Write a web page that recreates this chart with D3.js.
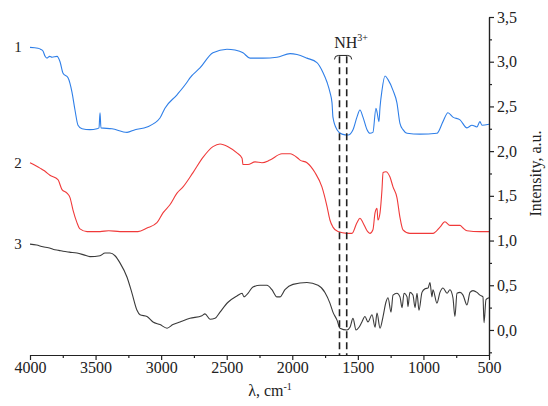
<!DOCTYPE html>
<html>
<head>
<meta charset="utf-8">
<script src="https://cdn.jsdelivr.net/npm/d3@7"></script>
<style>
  html, body { margin: 0; padding: 0; background: #fff; }
  svg { display: block; }
  text { font-family: "Times New Roman", "Liberation Serif", Tinos, serif; fill: #222; }
</style>
</head>
<body>
<svg id="chart" width="548" height="406"></svg>
<script>
// ---- data (wavenumber, cm^-1 ; intensity, a.u.) ----
const wn1 = [4000,3939,3920,3901,3885,3870,3850,3832,3794,3771,3748,3710,3680,3657,3634,3603,3543,3489,3474,3466,3459,3375,3260,3199,3108,3009,2971,2879,2803,2780,2704,2605,2498,2437,2376,2322,2223,2117,2017,1964,1888,1812,1766,1735,1713,1697,1690,1659,1621,1575,1537,1507,1484,1461,1430,1408,1385,1362,1354,1339,1331,1316,1293,1270,1232,1202,1179,1156,1125,1026,897,851,813,775,721,668,630,592,569,554,500];
const int1 = [3.16,3.15,3.14,3.12,3.06,3.04,3.06,3.05,3.06,3.00,2.87,2.82,2.66,2.46,2.29,2.25,2.24,2.25,2.26,2.43,2.26,2.25,2.21,2.24,2.27,2.37,2.48,2.63,2.77,2.82,2.93,3.10,3.14,3.13,3.10,3.04,3.04,3.05,3.09,3.08,3.04,2.99,2.88,2.77,2.66,2.54,2.38,2.24,2.19,2.18,2.24,2.38,2.46,2.38,2.24,2.20,2.21,2.48,2.44,2.33,2.49,2.68,2.84,2.80,2.68,2.54,2.31,2.24,2.20,2.19,2.20,2.33,2.43,2.38,2.35,2.26,2.29,2.27,2.33,2.29,2.30];

const wn2 = [4000,3924,3890,3848,3787,3756,3718,3695,3672,3642,3619,3565,3466,3400,3314,3177,3108,3032,2986,2933,2879,2833,2757,2681,2605,2551,2490,2422,2383,2376,2338,2284,2231,2170,2079,2017,1957,1941,1888,1827,1774,1735,1713,1690,1652,1583,1545,1507,1484,1461,1430,1408,1385,1369,1354,1347,1331,1316,1308,1286,1255,1232,1202,1179,1156,1103,927,874,836,798,721,698,668,569,500];
const int2 = [1.87,1.81,1.78,1.73,1.68,1.57,1.53,1.48,1.34,1.20,1.13,1.10,1.10,1.11,1.10,1.10,1.14,1.20,1.31,1.40,1.53,1.60,1.76,1.93,2.05,2.08,2.05,1.98,1.92,1.85,1.85,1.88,1.87,1.90,1.97,1.97,1.92,1.90,1.87,1.76,1.60,1.38,1.23,1.15,1.10,1.08,1.08,1.20,1.25,1.20,1.11,1.08,1.12,1.31,1.36,1.23,1.31,1.57,1.76,1.77,1.71,1.60,1.48,1.26,1.12,1.08,1.08,1.15,1.21,1.17,1.17,1.14,1.11,1.10,1.10];

const wn3 = [4000,3950,3901,3860,3820,3780,3748,3700,3642,3590,3543,3466,3428,3390,3352,3314,3260,3222,3184,3161,3108,3062,3009,2955,2910,2856,2780,2689,2666,2627,2589,2551,2490,2422,2383,2368,2338,2300,2246,2193,2155,2117,2094,2056,1995,1888,1804,1751,1713,1690,1659,1636,1583,1560,1537,1514,1491,1469,1446,1423,1392,1369,1354,1331,1308,1286,1270,1247,1232,1202,1179,1163,1148,1125,1118,1103,1080,1064,1049,1034,1011,988,965,950,935,927,897,874,851,820,798,775,760,744,721,698,668,645,622,592,569,546,538,523,500];
const int3 = [0.96,0.95,0.93,0.92,0.90,0.89,0.88,0.87,0.86,0.84,0.82,0.83,0.86,0.86,0.83,0.75,0.59,0.41,0.22,0.17,0.15,0.09,0.06,0.02,0.06,0.09,0.13,0.16,0.18,0.12,0.13,0.20,0.31,0.38,0.41,0.37,0.41,0.48,0.50,0.50,0.45,0.37,0.37,0.45,0.51,0.53,0.50,0.42,0.30,0.20,0.11,0.02,0.00,0.03,0.13,0.00,0.03,0.09,0.15,0.09,0.17,0.03,0.19,0.02,0.15,0.31,0.36,0.20,0.39,0.41,0.37,0.25,0.41,0.37,0.26,0.42,0.39,0.25,0.41,0.22,0.42,0.46,0.47,0.53,0.37,0.45,0.30,0.42,0.47,0.41,0.45,0.36,0.15,0.41,0.42,0.39,0.28,0.42,0.44,0.42,0.39,0.37,0.08,0.34,0.36];

const seriesLabels = ["1", "2", "3"];
const xTicks = [4000, 3500, 3000, 2500, 2000, 1500, 1000, 500];
const xMinorTicks = [3750, 3250, 2750, 2250, 1750, 1250, 750];
const yTicks = [0, 0.5, 1.0, 1.5, 2.0, 2.5, 3.0, 3.5];
const yMinorTicks = [-0.25, 0.25, 0.75, 1.25, 1.75, 2.25, 2.75, 3.25];
const nhBands = [1640, 1585];

// ---- layout ----
const svg = d3.select("#chart");
const x = d3.scaleLinear().domain([4000, 500]).range([30, 489]);
const y = d3.scaleLinear().domain([-0.28, 3.5]).range([355, 17]);

const colors = ["#2f7fe8", "#f03a3a", "#3a3a3a"];
const series = [
  {wn: wn1, v: int1, label: seriesLabels[0]},
  {wn: wn2, v: int2, label: seriesLabels[1]},
  {wn: wn3, v: int3, label: seriesLabels[2]}
];

const line = d3.line().x(d => x(d[0])).y(d => y(d[1])).curve(d3.curveMonotoneX);

series.forEach((s, i) => {
  const pts = s.wn.map((w, j) => [w, s.v[j]]);
  svg.append("path")
    .datum(pts)
    .attr("d", line)
    .attr("fill", "none")
    .attr("stroke", colors[i])
    .attr("stroke-width", 1.1)
    .attr("stroke-linejoin", "round");
  svg.append("text")
    .attr("x", 18)
    .attr("y", y(s.v[0]) + 5)
    .attr("text-anchor", "middle")
    .attr("font-size", 15)
    .text(s.label);
});

// dashed NH3+ marker lines
nhBands.forEach(w => {
  svg.append("line")
    .attr("x1", x(w)).attr("x2", x(w))
    .attr("y1", y(3.06)).attr("y2", y(-0.28))
    .attr("stroke", "#222")
    .attr("stroke-width", 1.6)
    .attr("stroke-dasharray", "7,4");
});
// bracket above the lines
const bx0 = x(nhBands[0]) - 5, bx1 = x(nhBands[1]) + 5, by = y(3.07);
svg.append("path")
  .attr("d", `M${bx0},${by + 4} Q${bx0},${by} ${bx0 + 4},${by} L${bx1 - 4},${by} Q${bx1},${by} ${bx1},${by + 4}`)
  .attr("fill", "none").attr("stroke", "#222").attr("stroke-width", 1);
const nh = svg.append("text")
  .attr("x", x((nhBands[0] + nhBands[1]) / 2) + 8)
  .attr("y", by - 7)
  .attr("text-anchor", "middle")
  .attr("font-size", 16);
nh.append("tspan").text("NH");
nh.append("tspan").attr("font-size", 10).attr("dy", -7).text("3+");

// ---- axes ----
const fmt = d => d3.format(".1f")(d).replace(".", ",");

svg.append("g")
  .attr("transform", `translate(0,${y(-0.28)})`)
  .call(d3.axisBottom(x).tickValues(xTicks).tickSize(5).tickSizeOuter(0).tickPadding(2).tickFormat(d3.format("d")));
svg.append("g")
  .attr("transform", `translate(0,${y(-0.28)})`)
  .call(d3.axisBottom(x).tickValues(xMinorTicks).tickSize(3).tickSizeOuter(0).tickFormat(""));

svg.append("g")
  .attr("transform", `translate(${x(500)},0)`)
  .call(d3.axisRight(y).tickValues(yTicks).tickSize(5).tickSizeOuter(0).tickPadding(3).tickFormat(fmt));
svg.append("g")
  .attr("transform", `translate(${x(500)},0)`)
  .call(d3.axisRight(y).tickValues(yMinorTicks).tickSize(3).tickSizeOuter(0).tickFormat(""));

svg.selectAll(".domain, .tick line").attr("stroke", "#222").attr("stroke-width", 1.2);
svg.selectAll(".tick text")
  .attr("font-family", "'Times New Roman', 'Liberation Serif', serif")
  .attr("font-size", 16)
  .attr("fill", "#222");

// axis titles
const xt = svg.append("text")
  .attr("x", 270).attr("y", 396)
  .attr("text-anchor", "middle")
  .attr("font-size", 16);
xt.append("tspan").text("λ, cm");
xt.append("tspan").attr("font-size", 10).attr("dy", -6).text("-1");

svg.append("text")
  .attr("transform", `translate(541,${y(1.75)}) rotate(-90)`)
  .attr("text-anchor", "middle")
  .attr("font-size", 16)
  .text("Intensity, a.u.");
</script>
</body>
</html>
